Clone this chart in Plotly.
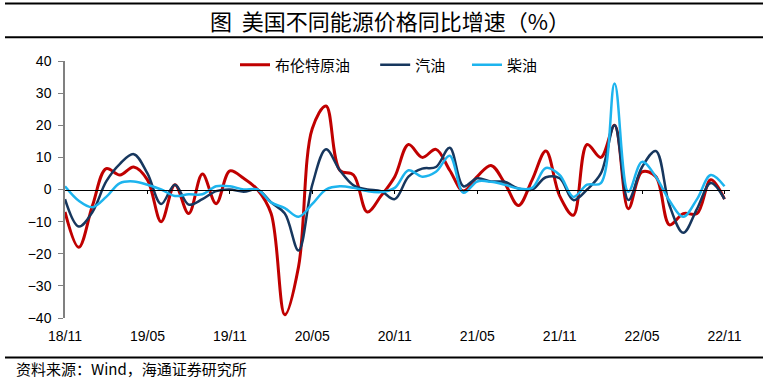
import plotly.graph_objects as go

# ---- data ----
tick_labels = ["18/11", "19/05", "19/11", "20/05", "20/11", "21/05", "21/11", "22/05", "22/11"]
n_months = 49  # 2018-11 .. 2022-11 monthly

brent = [-7, -18, -5, 6.5, 4.5, 7, 3, -10, 1.5, -7.5, 4.8, -4.4, 5.8, 3.5, 0,
         -7.5, -39, -24, 19, 26, 6, 4.5, -7, -2, 4, 14, 10, 12.5, 6, -0.5,
         4, 7.5, 2, -5, 3, 12, -2, -8, 14, 10, 20, -6, 5.5, 4, -11,
         -7.5, -7.5, 3, -3]
gasoline = [-3, -11.5, -7, 2.5, 8, 11, 5, -4.5, 1.5, -4.7, -3, -0.5, 0, -0.7, 0,
            -4, -7.5, -19, 1.5, 12.5, 6, 1.3, 0, -0.5, -3, 4, 6.5, 7, 13, 1,
            3.5, 2.5, 2.4, 0.3, 0, 3.8, 3.5, -3.3, 0, 5, 20, -3.3, 7, 12, -5,
            -13.5, -6, 2, -3]
diesel = [1, -3.5, -5.5, -2.3, 2, 2.5, 1.5, 0, -2, -1.5, -1.5, 1, 1, 0, 0,
          -4, -5.8, -8.5, -4.5, 0, 1, 0.5, -0.5, -0.8, 0.5, 6, 4, 5.5, 10.5, -1,
          2.5, 2.4, 1.5, 0.3, 0.5, 6.7, 4.5, -2.3, 1.5, 2, 33, -0.7, 8.6, 4, -3.5,
          -8.5, -3, 4.5, 1]

series_names = ["布伦特原油", "汽油", "柴油"]
legend_pad = ["\u00a0" * 6, "\u00a0" * 5, ""]
series_colors = ["#C00000", "#17375E", "#1DB4EE"]
series_widths = [3, 2.5, 2.5]

x = list(range(n_months))
tick_vals = list(range(0, n_months, 6))

# ---- layout geometry helpers (pixels -> paper) ----
W, H = 775, 386
ML, MR, MT, MB = 65, 45, 61, 68
PW, PH = W - ML - MR, H - MT - MB


def px(p):
    return (p - ML) / PW


def py(p):
    return (H - MB - p) / PH


fig = go.Figure()
for name, pad, vals, col, lw in zip(series_names, legend_pad, [brent, gasoline, diesel],
                                    series_colors, series_widths):
    fig.add_trace(go.Scatter(x=x, y=vals, name=name + pad, mode="lines",
                             line=dict(color=col, width=lw, shape="spline", smoothing=1.0)))

# invisible trace to carry the zero-line axis
fig.add_trace(go.Scatter(x=[0, n_months - 1], y=[None, None], xaxis="x2",
                         showlegend=False, hoverinfo="skip"))

xr = [0, 48.4]
fig.update_layout(
    width=W, height=H,
    margin=dict(l=ML, r=MR, t=MT, b=MB),
    plot_bgcolor="white", paper_bgcolor="white",
    font=dict(family="Liberation Sans, Arial, sans-serif", size=14, color="black"),
    showlegend=True,
    legend=dict(orientation="h", x=px(388.5), xanchor="center", y=py(65), yanchor="middle",
                font=dict(family="Noto Sans CJK SC", size=15, color="black"),
                bgcolor="rgba(0,0,0,0)", itemwidth=30, tracegroupgap=0),
    xaxis=dict(range=xr, tickvals=tick_vals, ticktext=tick_labels, showgrid=False,
               zeroline=False, showline=False, ticks="outside", ticklen=5,
               tickcolor="rgba(0,0,0,0)",
               tickfont=dict(family="Liberation Sans, Arial", size=14)),
    xaxis2=dict(range=xr, overlaying="x", anchor="free", position=0.5, side="bottom",
                showline=True, linecolor="black", linewidth=1, showgrid=False,
                zeroline=False, ticks="outside", ticklen=3, tickcolor="black",
                tickvals=tick_vals[1:], showticklabels=False),
    yaxis=dict(range=[-40, 40], dtick=10, tick0=0, showgrid=False, zeroline=False,
               showline=True, linecolor="#808080", linewidth=1.5, ticks="outside",
               ticklen=5, tickcolor="#808080", ticklabelstandoff=4,
               tickfont=dict(family="Liberation Sans, Arial", size=14)),
)

# title, rules and source
fig.add_annotation(text="图\u00a0\u00a0美国不同能源价格同比增速（%）", xref="paper", yref="paper",
                   x=px(390), y=py(20), xanchor="center", yanchor="middle", showarrow=False,
                   font=dict(family="Noto Sans CJK SC", size=22, color="black"))
# the first shape never showed in earlier renders: draw the rules below first, top rule last
for yy in (37.3, 357.5, 3.5):
    fig.add_shape(type="line", xref="paper", yref="paper", x0=px(5), x1=px(763),
                  y0=py(yy), y1=py(yy), line=dict(color="black", width=2))
fig.add_annotation(text="资料来源：Wind，海通证券研究所", xref="paper", yref="paper",
                   x=px(14), y=py(368), xanchor="left", yanchor="middle", showarrow=False,
                   font=dict(family="Noto Sans CJK SC", size=15, color="black"))

fig.write_html("out.html", config={"displayModeBar": False},
               post_script="document.body.style.margin='0px';")
